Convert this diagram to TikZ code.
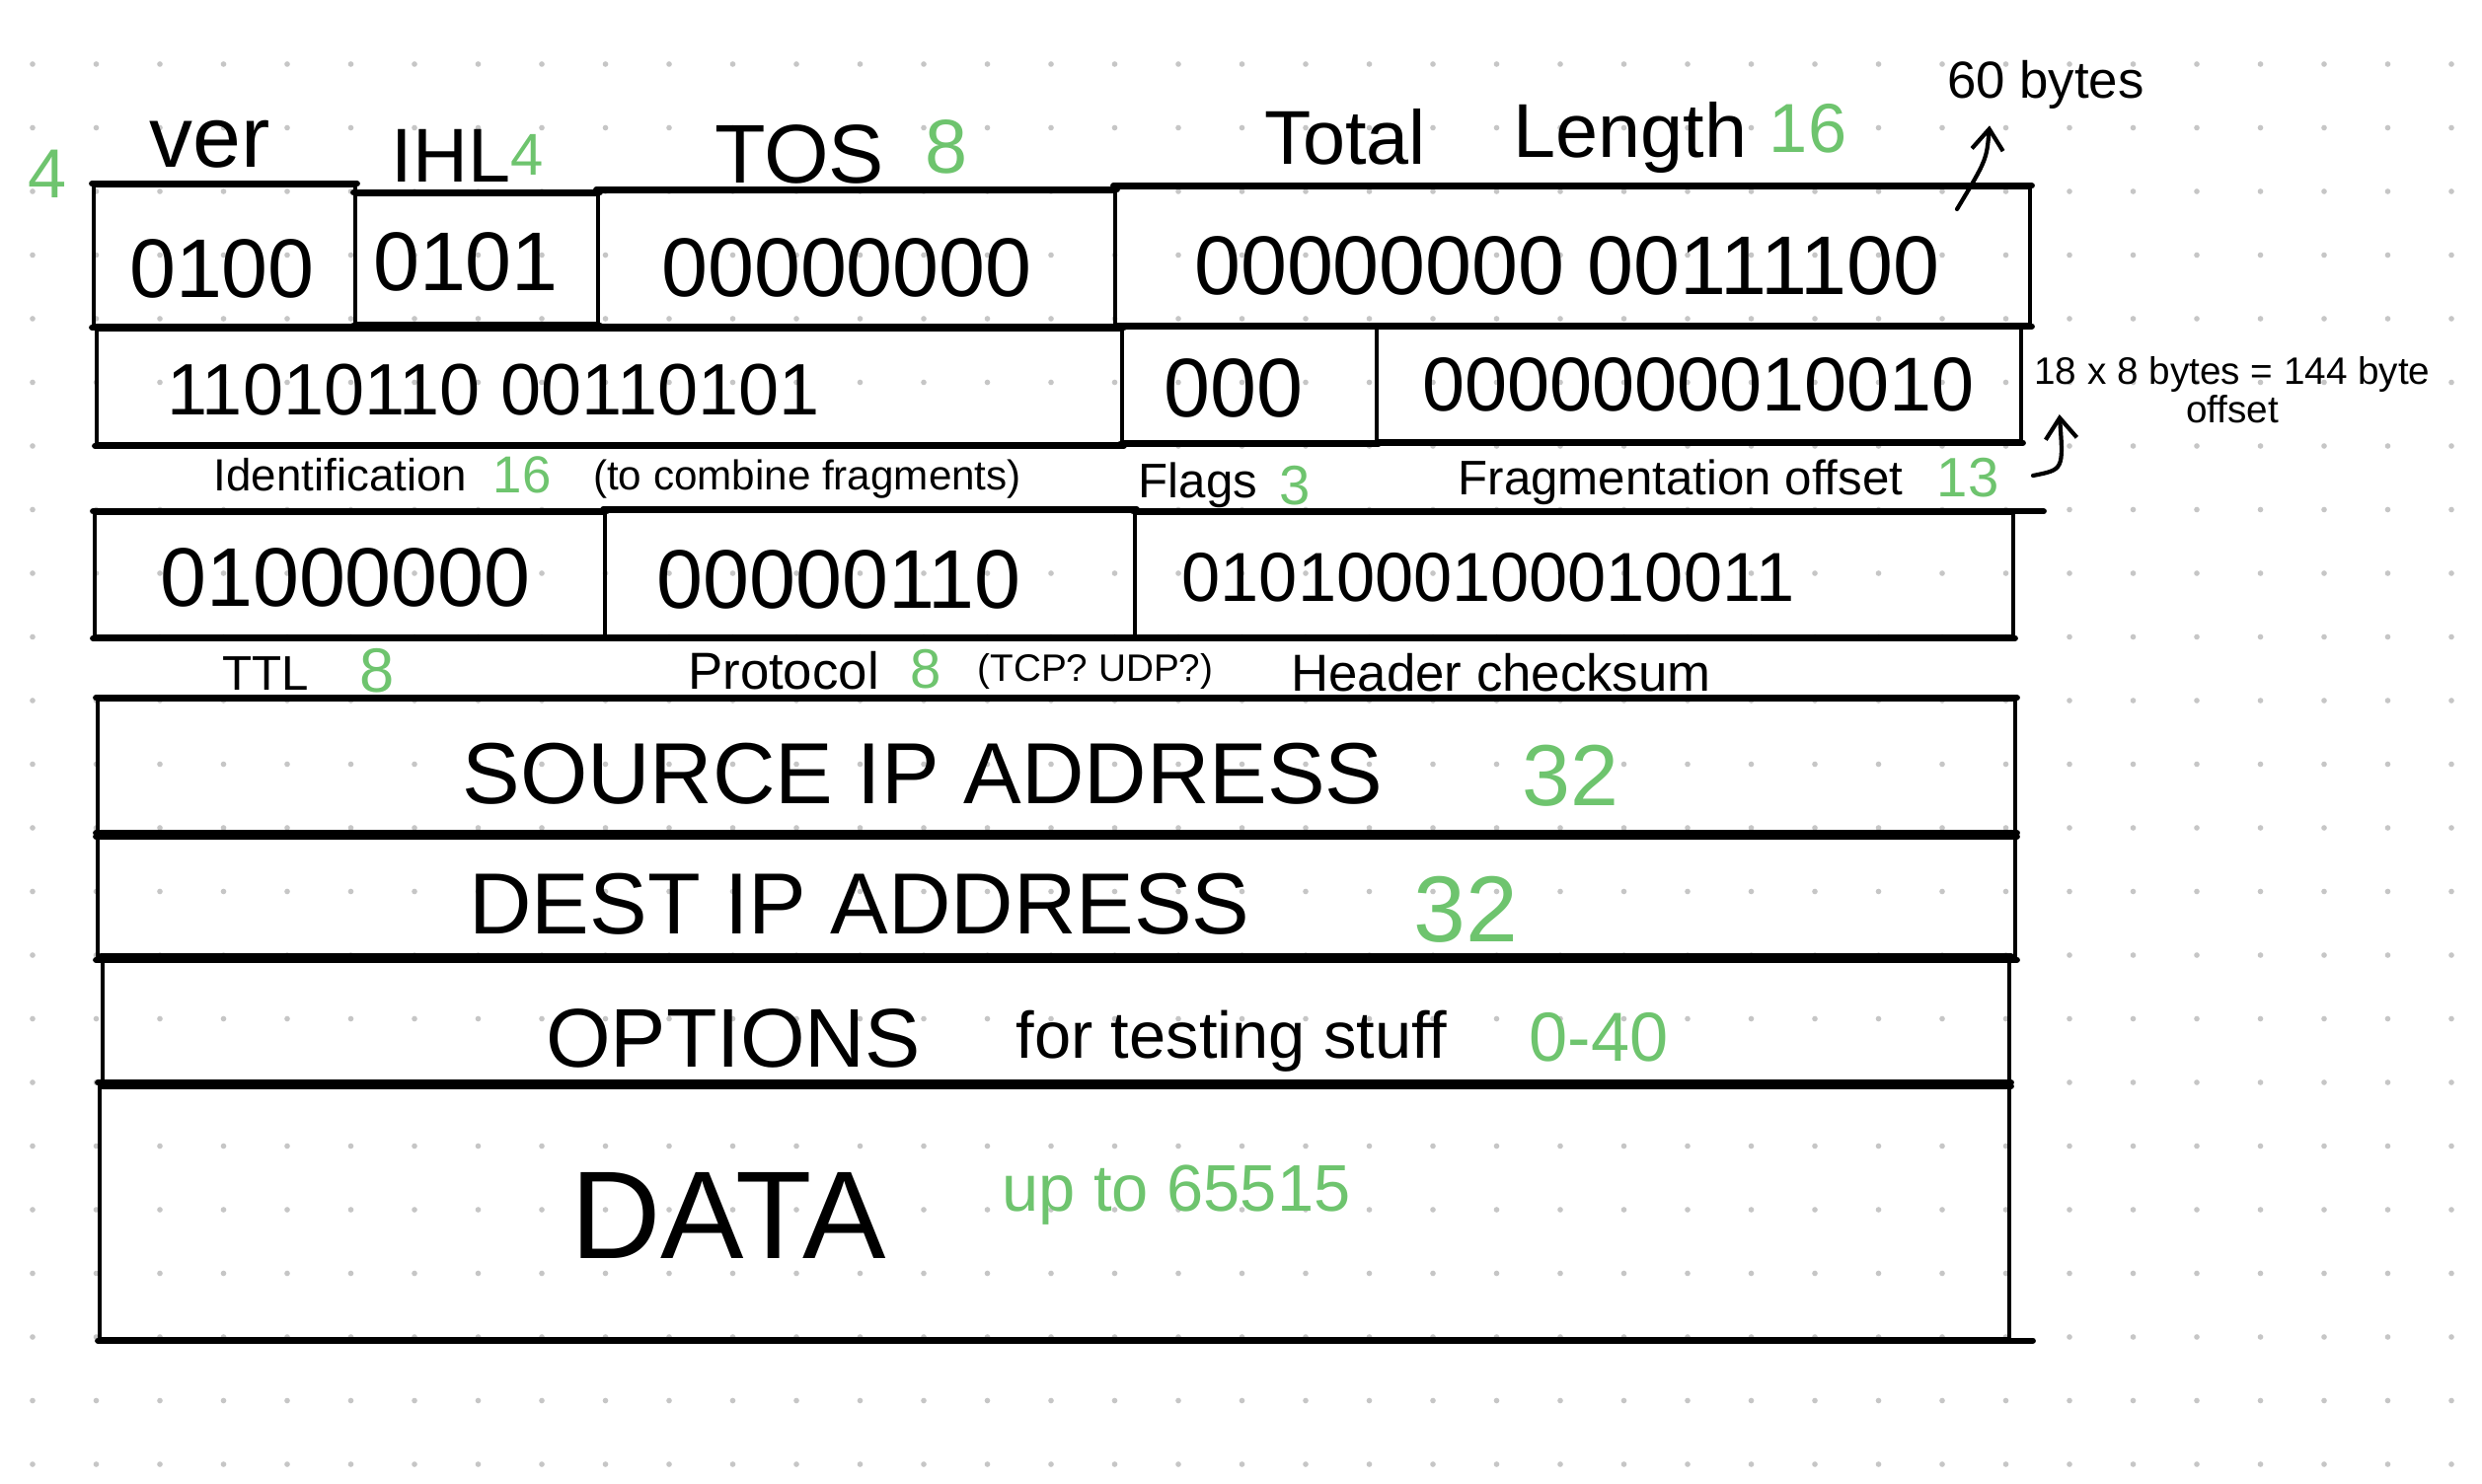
\documentclass[tikz,border=0pt]{standalone}
\usepackage{fontspec}
\setmainfont{Liberation Sans}
\usetikzlibrary{arrows.meta,fit}

\definecolor{pengreen}{RGB}{110,196,110}
\definecolor{dotgray}{RGB}{198,198,198}

\newcommand{\fs}[1]{\fontsize{#1}{#1}\selectfont}

\begin{document}
\begin{tikzpicture}[
  x=0.01cm, y=-0.01cm,
  cell/.style={draw, line width=1pt, inner sep=0pt},
  hline/.style={line width=1.8pt, line cap=round},
  bits/.style={font=\fs{#1}, inner sep=0pt},
  bits/.default=24,
  lbl/.style={font=\fs{#1}, inner sep=0pt},
  lbl/.default=14,
  num/.style={lbl=#1, text=pengreen},
  num/.default=16,
  note/.style={-{Straight Barb[length=6pt,width=9pt]}, line width=1.2pt, line cap=round}
]
  \fill[white] (0,0) rectangle (2515,1504);
  \useasboundingbox (0,0) rectangle (2515,1504);

  % dotted paper
  \foreach \i in {0,...,38}
    \foreach \j in {0,...,22}
      \fill[dotgray] ({33+64.5*\i},{65+64.5*\j}) circle[radius=0.8pt];

  % row 1
  \node[cell, fit={(95,188) (360,330)}] (ver) {};
  \node[cell, fit={(360,197) (606,328)}] (ihl) {};
  \node[cell, fit={(606,194) (1130,330)}] (tos) {};
  \node[cell, fit={(1130,190) (2057,329)}] (totlen) {};
  % row 2
  \node[cell, fit={(98,334) (1137,450)}] (ident) {};
  \node[cell, fit={(1137,332) (1395,448)}] (flags) {};
  \node[cell, fit={(1395,332) (2048,447)}] (fragoff) {};
  % row 3
  \node[cell, fit={(96,520) (613,645)}] (ttl) {};
  \node[cell, fit={(613,518) (1150,645)}] (proto) {};
  \node[cell, fit={(1150,520) (2040,645)}] (hdrsum) {};
  % addresses, options, data
  \node[cell, fit={(99,709) (2042,846)}] (src) {};
  \node[cell, fit={(99,846) (2042,971)}] (dst) {};
  \node[cell, fit={(104,971) (2036,1099)}] (opts) {};
  \node[cell, fit={(101,1099) (2036,1357)}] (data) {};

  \foreach \c in {ver,ihl,tos,totlen,ident,flags,fragoff,ttl,proto,hdrsum,src,dst,opts,data}
    \draw[hline] (\c.north west) -- (\c.north east) (\c.south west) -- (\c.south east);
  \draw[hline] (hdrsum.north east) -- ++(29,0);
  \draw[hline] (data.south east) -- ++(22,0);

  % bit values
  \node[bits] (b-ver) at (225,272) {0100};
  \node[bits] (b-ihl) at (472,265) {0101};
  \node[bits] (b-tos) at (858,271) {00000000};
  \node[bits] (b-totlen) at (1588,269) {00000000 00111100};
  \node[bits=21] (b-ident) at (500,395) {11010110 00110101};
  \node[bits] (b-flags) at (1250,393) {000};
  \node[bits=22] (b-fragoff) at (1721,390) {0000000010010};
  \node[bits] (b-ttl) at (350,585) {01000000};
  \node[bits] (b-proto) at (850,587) {00000110};
  \node[bits=20] (b-hdrsum) at (1508,585) {0101000100010011};

  % field names, row 1
  \node[num=20] (n-ver) at (48,176) {4};
  \node[lbl=25] (l-ver) at (213,146) {ver};
  \node[lbl=22] (l-ihl) at (457,158) {IHL};
  \node[num=17] (n-ihl) at (534,157) {4};
  \node[lbl=24] (l-tos) at (810,156) {TOS};
  \node[num=22] (n-tos) at (959,149) {8};
  \node[lbl=22] (l-total) at (1363,139) {Total};
  \node[lbl=22] (l-length) at (1652,140) {Length};
  \node[num=20] (n-totlen) at (1832,130) {16};
  \node[lbl=15] (sixty) at (2073,86) {60 bytes};

  % field names, row 2
  \node[lbl=13] (l-ident) at (345,481) {Identification};
  \node[num=15] (n-ident) at (529,481) {16};
  \node[lbl=12] (l-combine) at (818,486) {(to combine fragments)};
  \node[lbl=14] (l-flags) at (1214,492) {Flags};
  \node[num=16] (n-flags) at (1312,492) {3};
  \node[lbl=14] (l-fragoff) at (1703,489) {Fragmentation offset};
  \node[num=16] (n-fragoff) at (1994,484) {13};
  \node[lbl=11, align=center] (offnote) at (2262,395) {18 x 8 bytes = 144 byte\\offset};

  % field names, row 3
  \node[lbl=14] (l-ttl) at (269,683) {TTL};
  \node[num=18] (n-ttl) at (382,680) {8};
  \node[lbl=15] (l-proto) at (794,680) {Protocol};
  \node[num=16] (n-proto) at (938,678) {8};
  \node[lbl=11] (l-tcpudp) at (1110,680) {(TCP? UDP?)};
  \node[lbl=15] (l-hdrsum) at (1521,682) {Header checksum};

  % wide rows
  \node[lbl=25] (l-src) at (935,784) {SOURCE IP ADDRESS};
  \node[num=25] (n-src) at (1591,786) {32};
  \node[lbl=25] (l-dst) at (871,916) {DEST IP ADDRESS};
  \node[num=27] (n-dst) at (1485,922) {32};
  \node[lbl=24] (l-opts) at (743,1052) {OPTIONS};
  \node[lbl=19] (l-testing) at (1248,1055) {for testing stuff};
  \node[num=20] (n-opts) at (1620,1051) {0-40};
  \node[lbl=36] (l-data) at (738,1232) {DATA};
  \node[num=19] (n-data) at (1192,1211) {up to 65515};

  % side notes
  \coordinate (len-tail) at (1983,212);
  \draw[note] (len-tail) .. controls (2013,162) .. ([xshift=-0.57cm,yshift=-0.16cm]sixty.south);
  \coordinate (fo-tail) at (2060,482);
  \draw[note] (fo-tail) .. controls (2091,476) .. ([xshift=0.26cm,yshift=-0.25cm]offnote.west);
\end{tikzpicture}
\end{document}
